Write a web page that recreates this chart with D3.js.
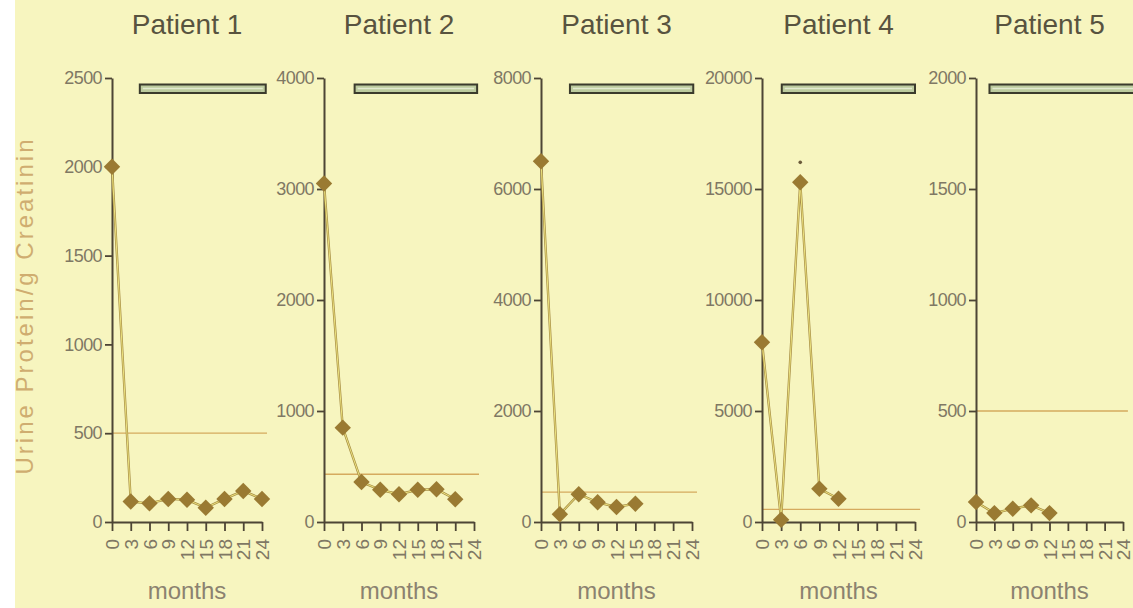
<!DOCTYPE html>
<html>
<head>
<meta charset="utf-8">
<script src="https://cdn.jsdelivr.net/npm/d3@7"></script>
<style>
  html, body { margin: 0; padding: 0; background: #ffffff; }
  svg { display: block; }
  text { font-family: "Liberation Sans", Arial, sans-serif; }
</style>
</head>
<body>
<svg id="chart" width="1133" height="608"></svg>
<script>
// Urine protein / g creatinine over follow-up, one panel per patient
const patients = ["Patient 1", "Patient 2", "Patient 3", "Patient 4", "Patient 5"];
const months = [0, 3, 6, 9, 12, 15, 18, 21, 24];

const patient1 = [2000, 115, 105, 130, 125, 80, 130, 175, 130];
const patient2 = [3050, 850, 360, 290, 250, 290, 295, 205];
const patient3 = [6500, 140, 500, 355, 270, 330];
const patient4 = [8100, 100, 15300, 1500, 1050];
const patient5 = [90, 40, 60, 75, 40];
const series = [patient1, patient2, patient3, patient4, patient5];

const yMax = [2500, 4000, 8000, 20000, 2000];
const yStep = [500, 1000, 2000, 5000, 500];
const threshold = [500, 430, 540, 570, 500];

// treatment period (months) shown as a bar above each panel
const therapyStart = [4.45, 4.9, 4.6, 3.1, 2.2];
const therapyEnd = [24.6, 24.5, 24.2, 24.0, 26.5];

// flagged measurement (marked with a dot above it)
const flagged = [{ patient: 3, monthIndex: 2 }];

const W = 1133, H = 608;
const svg = d3.select("#chart");

svg.append("rect").attr("x", 0).attr("y", 0).attr("width", W).attr("height", H).attr("fill", "#ffffff");
svg.append("rect").attr("x", 15).attr("y", 0).attr("width", W - 15).attr("height", H).attr("fill", "#f7f5bf");

const plotTop = 78, plotBottom = 522;
const panelLeft = [112, 324, 541, 762, 976];
const panelWidth = [150, 150, 151, 153, 147];

const axisColor = "#4d4535";
const tickTextColor = "#7f7864";

patients.forEach((name, i) => {
  const g = svg.append("g").attr("transform", `translate(${panelLeft[i]},0)`);
  const x = d3.scaleLinear().domain([0, 24]).range([0, panelWidth[i]]);
  const y = d3.scaleLinear().domain([0, yMax[i]]).range([plotBottom, plotTop]);

  // title
  g.append("text")
    .attr("x", x(12)).attr("y", 34)
    .attr("text-anchor", "middle")
    .attr("font-size", 28)
    .attr("fill", "#58533f")
    .text(name);

  // treatment bar
  g.append("rect")
    .attr("x", x(therapyStart[i])).attr("y", 84.5)
    .attr("width", x(therapyEnd[i]) - x(therapyStart[i])).attr("height", 8.5)
    .attr("fill", "#bccb9e")
    .attr("stroke", "#3b3b2c").attr("stroke-width", 2);
  g.append("line")
    .attr("x1", x(therapyStart[i]) + 3).attr("x2", x(therapyEnd[i]) - 3)
    .attr("y1", 88.5).attr("y2", 88.5)
    .attr("stroke", "#e2ead0").attr("stroke-width", 1.4);

  // threshold line
  g.append("line")
    .attr("x1", x(0)).attr("x2", x(24.8))
    .attr("y1", y(threshold[i])).attr("y2", y(threshold[i]))
    .attr("stroke", "#d5aa5e").attr("stroke-width", 1.3);

  // y axis
  const yAxis = g.append("g")
    .call(d3.axisLeft(y)
      .tickValues(d3.range(0, yMax[i] + 1, yStep[i]))
      .tickFormat(d3.format("d"))
      .tickSize(7).tickSizeOuter(0).tickPadding(3));
  yAxis.select(".domain").attr("stroke", axisColor).attr("stroke-width", 2);
  yAxis.selectAll(".tick line").attr("stroke", axisColor).attr("stroke-width", 1.8);
  yAxis.selectAll(".tick text")
    .attr("font-size", 18).attr("letter-spacing", -0.6)
    .attr("fill", tickTextColor)
    .style("font-family", '"Liberation Sans", Arial, sans-serif');

  // x axis
  const xAxis = g.append("g")
    .attr("transform", `translate(0,${plotBottom})`)
    .call(d3.axisBottom(x).tickValues(months).tickSize(9).tickSizeOuter(0));
  xAxis.select(".domain").attr("stroke", axisColor).attr("stroke-width", 2);
  xAxis.selectAll(".tick line").attr("stroke", axisColor).attr("stroke-width", 1.8);
  xAxis.selectAll(".tick text")
    .attr("transform", "rotate(-90)")
    .attr("x", -17).attr("y", 0).attr("dy", "0.35em")
    .attr("text-anchor", "end")
    .attr("font-size", 19)
    .attr("fill", tickTextColor)
    .style("font-family", '"Liberation Sans", Arial, sans-serif');

  // x axis title
  g.append("text")
    .attr("x", x(12)).attr("y", 599)
    .attr("text-anchor", "middle")
    .attr("font-size", 24)
    .attr("fill", "#8b8270")
    .text("months");

  // connecting line
  const vals = series[i];
  const line = d3.line().x((d, j) => x(months[j])).y(d => y(d));
  g.append("path").datum(vals)
    .attr("d", line).attr("fill", "none")
    .attr("stroke", "#a88f46").attr("stroke-width", 2.4);
  g.append("path").datum(vals)
    .attr("d", line).attr("fill", "none")
    .attr("stroke", "#ece27e").attr("stroke-width", 1);

  // diamond markers
  g.selectAll("path.marker").data(vals).join("path")
    .attr("class", "marker")
    .attr("d", d3.symbol(d3.symbolSquare, 135))
    .attr("transform", (d, j) => `translate(${x(months[j])},${y(d)}) rotate(45)`)
    .attr("fill", "#9a7a32");

  flagged.filter(f => f.patient === i).forEach(f => {
    g.append("circle")
      .attr("cx", x(months[f.monthIndex]))
      .attr("cy", y(vals[f.monthIndex]) - 20)
      .attr("r", 1.8)
      .attr("fill", "#6b5b3a");
  });
});

// shared y axis title
svg.append("text")
  .attr("transform", "translate(33,307) rotate(-90)")
  .attr("text-anchor", "middle")
  .attr("font-size", 24)
  .attr("fill", "#cfad70")
  .attr("textLength", 335)
  .attr("lengthAdjust", "spacing")
  .text("Urine Protein/g Creatinin");
</script>
</body>
</html>
